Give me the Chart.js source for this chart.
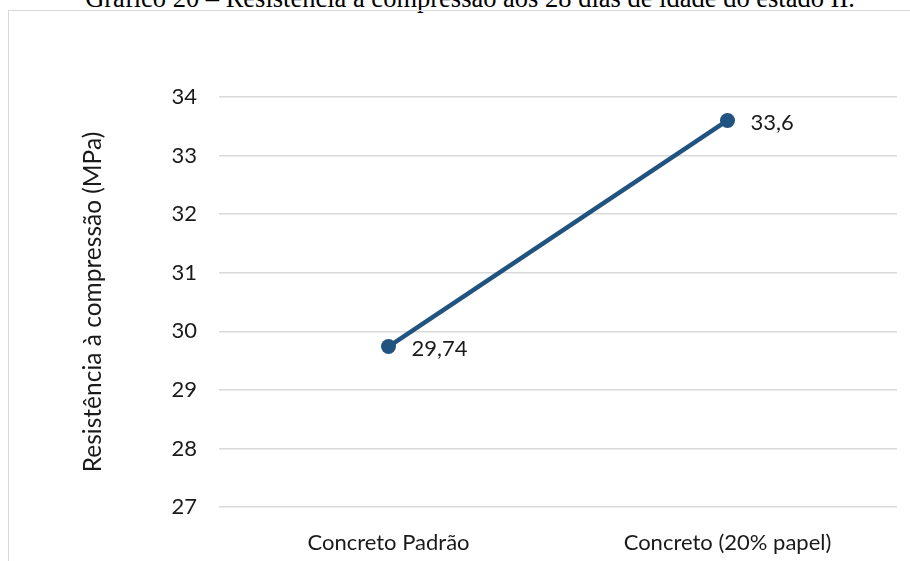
<!DOCTYPE html>
<html>
<head>
<meta charset="utf-8">
<script src="https://cdn.jsdelivr.net/npm/chart.js@4/dist/chart.umd.min.js"></script>
<style>
  html, body { margin: 0; padding: 0; background: #fff; }
  body { width: 910px; height: 561px; position: relative; overflow: hidden; }
  #title {
    position: absolute; left: 0; width: 940px; top: -15px;
    text-align: center; font-family: "Liberation Serif", "Times New Roman", serif;
    font-size: 26.5px; line-height: 26.5px; color: #000; white-space: nowrap;
  }
  #frame {
    position: absolute; left: 8px; top: 10px; width: 1000px; height: 700px;
    border: 1.5px solid #d9d9d9; box-sizing: border-box;
  }
  #wrap { position: absolute; left: 0; top: 0; width: 910px; height: 561px; }
</style>
</head>
<body>
<div id="title">Gráfico 20 – Resistência à compressão aos 28 dias de idade do estado II.</div>
<div id="frame"></div>
<div id="wrap"><canvas id="c" width="910" height="561"></canvas></div>
<script>
const categories = ["Concreto Padrão", "Concreto (20% papel)"];
const resistencia = [29.74, 33.6];
const yTicks = [27, 28, 29, 30, 31, 32, 33, 34];
const yTitle = "Resistência à compressão (MPa)";

const FONT = "Lato, 'Open Sans', sans-serif";
const LINE = "#215380";

const labelPlugin = {
  id: 'valueLabels',
  afterDatasetsDraw(chart) {
    const ctx = chart.ctx;
    const meta = chart.getDatasetMeta(0);
    ctx.save();
    ctx.font = "22px " + FONT;
    ctx.fillStyle = "#1a1a1a";
    ctx.textAlign = "left";
    ctx.textBaseline = "middle";
    meta.data.forEach((pt, i) => {
      const txt = String(resistencia[i]).replace('.', ',');
      ctx.fillText(txt, pt.x + 23, pt.y + 2);
    });
    ctx.restore();
  }
};

new Chart(document.getElementById('c'), {
  type: 'line',
  data: {
    labels: categories,
    datasets: [{
      data: resistencia,
      borderColor: LINE,
      backgroundColor: LINE,
      borderWidth: 4.5,
      pointRadius: 7.5,
      pointHoverRadius: 7.5,
      pointBackgroundColor: LINE,
      pointBorderColor: LINE,
      pointBorderWidth: 0,
      tension: 0,
      fill: false
    }]
  },
  options: {
    responsive: false,
    animation: false,
    devicePixelRatio: 1,
    layout: { padding: { top: 97, right: 13, bottom: 0, left: 0 } },
    plugins: { legend: { display: false }, tooltip: { enabled: false }, title: { display: false } },
    scales: {
      x: {
        type: 'category',
        offset: true,
        grid: { display: false, drawTicks: false },
        border: { display: false },
        ticks: { color: "#1a1a1a", font: { family: FONT, size: 22 }, padding: 23, maxRotation: 0 },
        afterFit(scale) { scale.height = 54; }
      },
      y: {
        min: 27, max: 34,
        afterBuildTicks(scale) { scale.ticks = yTicks.map(v => ({ value: v })); },
        grid: { color: "#d9d9d9", lineWidth: 1.5, drawTicks: false },
        border: { display: false },
        ticks: { color: "#1a1a1a", font: { family: FONT, size: 22 }, padding: 22 },
        title: { display: true, text: yTitle, color: "#1a1a1a", font: { family: FONT, size: 24.5 }, padding: { top: 78, bottom: 0 } },
        afterFit(scale) { scale.width = 219; }
      }
    }
  },
  plugins: [labelPlugin]
});
</script>
</body>
</html>
